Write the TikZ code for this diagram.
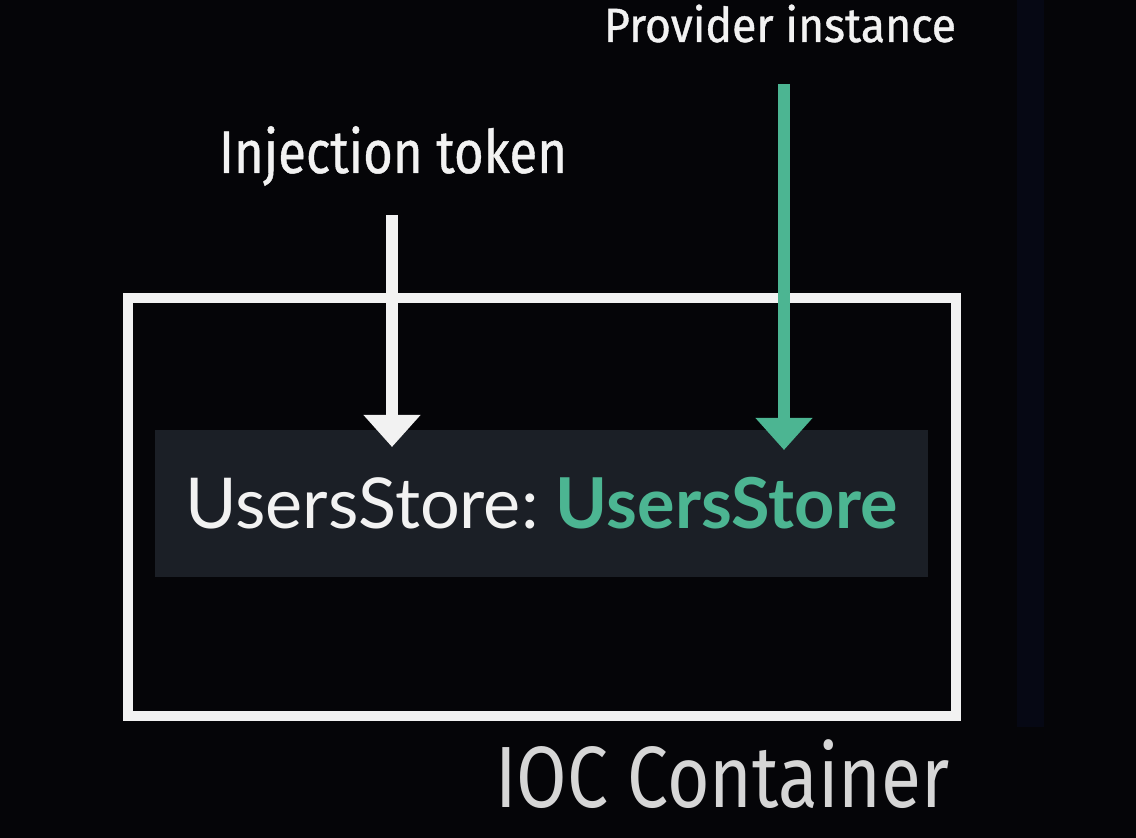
\documentclass[tikz,border=0pt]{standalone}
\usepackage{fontspec}
\usepackage{graphicx}
\setmainfont{Lato}
\newfontfamily\labelfont{Fira Sans}
\newfontfamily\boldlabelfont{Fira Sans}[FakeBold=0.8]
\usetikzlibrary{arrows.meta}
\usetikzlibrary{positioning}
\definecolor{bgcol}{HTML}{050508}
\definecolor{stripcol}{HTML}{060814}
\definecolor{panelcol}{HTML}{1B1F26}
\definecolor{tealcol}{HTML}{4CB592}
\definecolor{textcol}{HTML}{F2F2F2}
\definecolor{greycol}{HTML}{D6D6D6}
\tikzset{label/.style = {text=textcol, font=\labelfont, inner sep=0, anchor=base}}
\tikzset{pointer/.style = {line width=6pt, -{Triangle[width=27.5pt, length=16pt]}}}

\begin{document}
\begin{tikzpicture}[x=0.5pt, y=-0.5pt]
        \fill [bgcol] (0,0) rectangle (1136,838);
        \fill [stripcol] (1017,0) rectangle (1044,727);
        \node [draw=textcol, line width=5pt, minimum width=414pt, minimum height=209pt] (container) at (542,507) {};
        \node [fill=panelcol, minimum width=386.5pt, minimum height=73.5pt, inner sep=0, font=\fontsize{35.1}{42}\selectfont] (entry) at (541.5,503.5)
            {\textcolor{textcol}{UsersStore:}\hspace{0.25em}\textcolor{tealcol}{\bfseries UsersStore}};
        \node [label, font=\boldlabelfont\fontsize{30}{36}\selectfont] (token) at (393,173) {\scalebox{0.85}[1]{Injection token}};
        \node [label, font=\boldlabelfont\fontsize{24}{29}\selectfont] (provider) at (780,42) {\scalebox{0.93}[1]{Provider instance}};
        \node [label, text=greycol, font=\labelfont\fontsize{43.5}{52}\selectfont] (ioc) at (722.5,808) {\scalebox{0.84}[1]{IOC Container}};
        \coordinate (tokenstart) at (392,215);
        \coordinate (tokentip) at (392,447);
        \coordinate (providerstart) at (784,84);
        \coordinate (providertip) at (784,450);
        \draw [pointer, textcol] (tokenstart) -- (tokentip);
        \draw [pointer, tealcol] (providerstart) -- (providertip);
    \end{tikzpicture}
\end{document}
